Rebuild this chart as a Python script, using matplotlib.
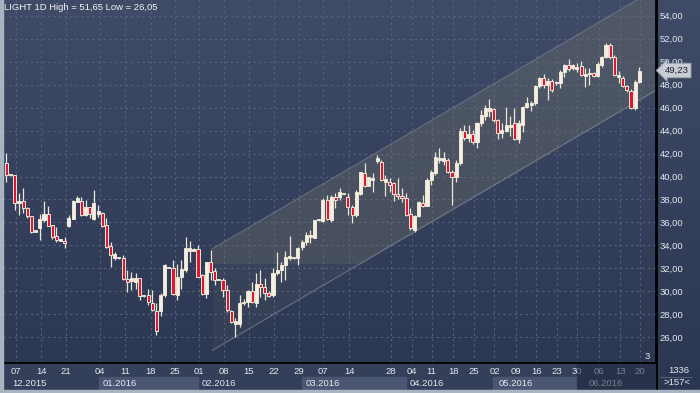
import numpy as np
import matplotlib
matplotlib.use("Agg")
import matplotlib.pyplot as plt
from matplotlib.patches import Rectangle
from matplotlib.lines import Line2D
from matplotlib.colors import LinearSegmentedColormap

plt.rcParams['font.family'] = ['Liberation Sans', 'DejaVu Sans']

# daily OHLC (one candle per trading day)
opens = [41.20, 40.12, 40.13, 37.67, 37.87, 37.23, 36.56, 35.20, 35.49, 36.21,
         36.73, 35.78, 34.82, 34.38, 34.38, 35.69, 36.30, 37.80, 37.87, 36.65,
         37.33, 36.27, 36.73, 36.85, 35.78, 33.95, 32.87, 32.88, 32.87, 31.05,
         30.93, 30.79, 31.13, 29.58, 29.68, 29.01, 28.32, 28.32, 29.68, 32.05,
         32.00, 29.68, 31.22, 31.86, 33.54, 33.55, 33.66, 31.42, 29.77, 32.53,
         31.77, 30.97, 30.99, 30.12, 28.29, 27.16, 27.16, 28.96, 29.10, 30.06,
         29.02, 30.64, 30.35, 29.88, 29.68, 31.63, 31.86, 32.29, 32.93, 32.88,
         32.87, 33.89, 34.33, 34.76, 34.68, 36.18, 36.12, 37.95, 36.21, 38.24,
         38.24, 38.50, 38.24, 37.37, 36.65, 38.45, 40.27, 39.20, 39.70, 41.35,
         41.29, 39.55, 39.49, 39.40, 38.47, 38.30, 38.16, 36.71, 35.34, 36.59,
         37.66, 37.46, 39.70, 40.27, 41.44, 41.35, 41.44, 40.36, 39.98, 41.15,
         43.96, 43.38, 43.67, 43.03, 44.63, 45.27, 45.73, 45.85, 44.92, 43.82,
         43.99, 44.28, 44.63, 43.24, 44.48, 46.08, 46.22, 46.43, 47.88, 48.55,
         47.97, 48.34, 48.11, 48.11, 49.13, 49.71, 49.42, 49.33, 49.62, 48.75,
         48.92, 49.04, 48.75, 49.71, 50.43, 51.45, 50.43, 48.63, 48.55, 47.88,
         47.47, 45.93, 48.26]
highs = [42.02, 40.25, 40.13, 38.59, 38.97, 37.37, 36.56, 35.35, 36.73, 37.87,
         37.43, 35.78, 35.58, 34.60, 34.76, 36.65, 37.95, 38.30, 38.19, 37.96,
         37.35, 38.80, 37.52, 36.94, 36.36, 34.33, 33.45, 33.00, 33.16, 31.86,
         31.71, 31.57, 31.20, 29.70, 30.17, 30.12, 28.96, 29.83, 32.38, 32.15,
         32.73, 32.38, 32.73, 34.76, 34.38, 33.80, 34.04, 31.51, 32.58, 33.60,
         32.00, 31.05, 31.13, 30.55, 28.38, 27.65, 29.68, 29.30, 30.12, 30.84,
         31.63, 31.86, 31.13, 30.00, 32.00, 33.45, 32.58, 33.51, 34.85, 33.00,
         33.89, 34.47, 35.20, 35.34, 36.21, 36.28, 38.10, 38.39, 38.39, 38.53,
         38.97, 38.60, 38.53, 37.52, 38.82, 40.42, 41.15, 39.95, 40.27, 41.87,
         41.44, 40.13, 39.84, 39.49, 39.84, 38.97, 38.53, 37.23, 36.65, 37.87,
         38.39, 39.84, 40.56, 42.16, 42.45, 42.10, 41.58, 40.56, 41.44, 44.25,
         44.48, 44.48, 44.05, 44.77, 45.79, 46.22, 46.72, 45.93, 44.98, 44.63,
         46.08, 45.27, 45.93, 44.92, 46.14, 46.95, 46.57, 47.97, 48.69, 48.92,
         48.55, 48.46, 48.30, 49.27, 49.79, 50.20, 49.80, 49.91, 50.08, 49.42,
         49.42, 49.10, 49.98, 50.49, 51.65, 51.60, 50.58, 49.21, 48.75, 47.97,
         47.59, 48.40, 49.50]
lows = [39.55, 40.05, 37.10, 36.65, 36.80, 36.36, 35.10, 35.18, 34.47, 36.06,
        35.71, 34.56, 34.33, 34.35, 33.75, 35.63, 36.30, 37.75, 36.60, 36.60,
        36.36, 36.20, 36.50, 35.63, 33.74, 32.09, 32.73, 32.80, 30.99, 29.97,
        30.12, 30.17, 29.25, 29.55, 28.81, 28.32, 26.20, 27.85, 29.54, 32.00,
        29.70, 29.25, 30.17, 31.71, 32.58, 33.50, 31.22, 29.68, 29.39, 30.99,
        30.55, 30.95, 29.54, 28.23, 27.22, 26.05, 26.92, 28.80, 28.67, 29.00,
        28.67, 29.54, 29.25, 29.50, 29.48, 31.42, 30.84, 30.99, 32.73, 32.80,
        32.29, 33.60, 34.04, 34.18, 34.62, 36.15, 36.07, 36.21, 36.07, 37.23,
        37.95, 38.45, 36.65, 35.92, 36.50, 38.39, 39.11, 39.15, 38.68, 41.15,
        39.61, 38.33, 38.68, 37.87, 38.04, 37.81, 36.59, 35.34, 35.20, 36.50,
        37.37, 37.40, 39.26, 40.13, 41.15, 41.00, 40.27, 37.52, 39.55, 41.00,
        43.18, 43.03, 42.80, 42.45, 44.40, 44.92, 45.21, 44.77, 43.24, 43.32,
        43.90, 43.53, 43.18, 42.94, 43.90, 45.93, 45.73, 46.22, 47.68, 47.68,
        46.66, 47.39, 48.00, 47.68, 48.69, 49.21, 49.30, 49.13, 48.75, 47.76,
        47.97, 48.70, 48.69, 49.56, 50.30, 50.20, 48.75, 48.11, 47.76, 47.39,
        45.85, 45.79, 48.11]
closes = [40.10, 40.17, 37.67, 37.87, 37.23, 36.56, 35.19, 35.33, 36.27, 36.73,
          35.71, 34.76, 34.47, 34.56, 34.18, 36.36, 37.90, 38.10, 36.65, 37.33,
          36.73, 37.72, 37.02, 35.69, 33.89, 33.16, 33.22, 32.92, 31.05, 30.79,
          31.13, 31.13, 29.60, 29.65, 29.10, 28.38, 26.57, 29.68, 32.29, 32.12,
          29.77, 31.22, 31.95, 33.74, 33.74, 33.72, 31.28, 29.77, 32.53, 31.71,
          30.99, 31.02, 30.12, 28.38, 27.36, 27.45, 28.96, 29.10, 30.06, 29.10,
          30.64, 30.35, 29.83, 29.62, 31.57, 31.86, 32.29, 32.96, 33.08, 32.92,
          33.74, 34.33, 34.91, 34.91, 36.21, 36.23, 37.95, 36.30, 38.24, 37.95,
          38.68, 38.55, 37.37, 36.65, 38.68, 40.36, 39.20, 39.93, 39.84, 41.64,
          39.70, 39.75, 39.26, 38.45, 38.30, 38.10, 36.65, 35.49, 36.59, 37.75,
          37.46, 39.70, 40.36, 41.73, 41.64, 41.58, 40.36, 39.98, 41.15, 43.96,
          43.38, 43.67, 43.03, 44.63, 45.35, 45.93, 45.93, 44.92, 43.82, 44.05,
          44.48, 44.48, 43.24, 44.63, 46.08, 46.43, 46.43, 47.88, 48.55, 47.97,
          48.34, 47.53, 48.26, 49.13, 49.71, 49.33, 49.71, 49.56, 48.84, 48.92,
          49.04, 48.75, 49.79, 50.43, 51.45, 50.43, 48.84, 48.84, 47.88, 47.53,
          45.93, 48.26, 49.23]

price_ticks = list(range(26, 55, 2))
day_tick_pos = [2.3, 8.3, 14.2, 22.5, 28.5, 34.6, 40.5, 46.2, 52.2, 58.2, 64.3,
                70.3, 76.1, 82.3, 92.4, 97.3, 102.1, 107.3, 112.3, 117.2, 122.3,
                127.2, 132.2, 137.0, 142.3, 147.4, 152.2]
day_tick_labels = ["07", "14", "21", "04", "11", "18", "25", "01", "08", "15", "22",
                   "29", "07", "14", "28", "04", "11", "18", "25", "02", "09",
                   "16", "23", "30", "06", "13", "20"]
month_starts = [-0.84, 22.2, 46.0, 71.0, 96.0, 116.9, 137.0]
month_label_pos = [1.3, 23.2, 46.9, 71.9, 96.9, 118.1, 139.7]
month_labels = ["12.2015", "01.2016", "02.2016", "03.2016", "04.2016", "05.2016", "06.2016"]

# trend channel drawn on the chart
channel_x = [49.4, 156.0]
channel_upper = [33.69, 56.34]
channel_lower = [24.86, 47.51]
channel_split = 32.5

last_price = 49.23
title = "LIGHT 1D High = 51,65 Low = 26,05"

# colours
up_color = "#f4efe2"
down_color = "#dc1735"
wick_color = "#ece6d6"
grid_color = "#56627c"
text_color = "#e4e8ee"

W, H = 700, 393
x_lim = (-0.84, 156.0)
y_lim = (23.76, 55.37)

fig = plt.figure(figsize=(W / 100, H / 100), dpi=100)

# background gradient for the whole window
bg = fig.add_axes([0, 0, 1, 1], zorder=0)
cmap = LinearSegmentedColormap.from_list("bg", ["#2b3751", "#3f4b67"])
bg.imshow(np.linspace(0, 1, 256).reshape(-1, 1), aspect="auto", cmap=cmap,
          extent=[0, 1, 0, 1], origin="lower")
bg.axis("off")

# main price panel
ax = fig.add_axes([3 / W, 30 / H, 653 / W, 363 / H], zorder=2)
ax.set_facecolor("none")
ax.set_xlim(*x_lim)
ax.set_ylim(*y_lim)

# channel
fill_color = "#7a7a6e"
ax.fill_between(channel_x, channel_lower, channel_upper, color=fill_color,
                alpha=0.10, lw=0, zorder=1)
band = ax.fill_between(channel_x, channel_lower, channel_upper, color=fill_color,
                       alpha=0.22, lw=0, zorder=1)
clip = Rectangle((channel_x[0], channel_split), channel_x[1] - channel_x[0], 40,
                 transform=ax.transData)
band.set_clip_path(clip)
ax.plot(channel_x, channel_upper, color="#9aa0a8", lw=0.9, alpha=0.45, zorder=2)
ax.plot(channel_x, channel_lower, color="#9aa0a8", lw=0.9, alpha=0.45, zorder=2)

# candles
o = np.array(opens)
c = np.array(closes)
h = np.array(highs)
l = np.array(lows)
idx = np.arange(len(c))
up = c >= o
ax.vlines(idx, l, h, color=wick_color, lw=0.9, zorder=3)
body_bot = np.minimum(o, c)
body_h = np.maximum(np.abs(c - o), 0.09)
ax.bar(idx, body_h, bottom=body_bot, width=0.74,
       color=[up_color if u else down_color for u in up],
       edgecolor=wick_color, linewidth=0.7, zorder=4)

# grid / axes
ax.set_xticks(day_tick_pos)
ax.set_yticks(price_ticks)
ax.set_yticklabels([f"{v:.2f}".replace(".", ",") for v in price_ticks])
ax.yaxis.tick_right()
ax.tick_params(axis="y", length=0, pad=2.5, labelsize=6.8, labelcolor=text_color)
ax.tick_params(axis="x", length=0, labelbottom=False)
ax.grid(True, color=grid_color, linestyle=(0, (2, 3)), linewidth=0.8)
ax.set_axisbelow(True)
for s in ["top", "left"]:
    ax.spines[s].set_visible(False)
for s in ["bottom", "right"]:
    ax.spines[s].set_color("black")
    ax.spines[s].set_linewidth(1.3)

ax.text(0.991, 0.006, "3", transform=ax.transAxes, ha="right", va="bottom",
        fontsize=6.8, color=text_color, zorder=6)

# last price marker
ax.annotate(f"{last_price:.2f}".replace(".", ","), xy=(1, last_price),
            xycoords=("axes fraction", "data"), xytext=(6, 0),
            textcoords="offset points", ha="left", va="center", fontsize=6.8,
            color="#1b2230", annotation_clip=False, zorder=10,
            bbox=dict(boxstyle="larrow,pad=0.3", fc="#c8ccd4", ec="#8f96a2", lw=0.6))

# date bar
ax_d = fig.add_axes([3 / W, 3 / H, 653 / W, 27 / H], zorder=1)
ax_d.set_xlim(*x_lim)
ax_d.set_ylim(0, 27)
ax_d.axis("off")
ax_d.add_patch(Rectangle((x_lim[0], 0), x_lim[1] - x_lim[0], 27, color="#34405a", zorder=0))
ends = month_starts[1:] + [x_lim[1]]
for i, (m0, m1) in enumerate(zip(month_starts, ends)):
    if i % 2 == 1:
        ax_d.add_patch(Rectangle((m0, 0), m1 - m0, 13, color="#4b5772", zorder=1))
for p, lab in zip(month_label_pos, month_labels):
    ax_d.text(p, 7, lab, ha="left", va="center", fontsize=6.8, color=text_color, zorder=2)
for p, lab in zip(day_tick_pos, day_tick_labels):
    ax_d.text(p, 18, lab, ha="center", va="center", fontsize=6.8, color=text_color, zorder=2)
ax_d.add_patch(Rectangle((month_starts[-1], 0), x_lim[1] - month_starts[-1] - 0.3, 27,
                         color="#1f2940", alpha=0.55, zorder=5))

# frame pieces
fig.add_artist(Line2D([656.7 / W] * 2, [3 / H, 1], color="black", lw=1.3))
fig.add_artist(Line2D([660 / W, 692 / W], [1 - 376.5 / H] * 2, color="#5a6680", lw=0.6))
fig.text(678.3 / W, 1 - 370.7 / H, "1336", ha="center", va="center", fontsize=6.8, color=text_color)
fig.text(676.7 / W, 1 - 382.7 / H, ">157<", ha="center", va="center", fontsize=6.8, color=text_color)
fig.patches.append(Rectangle((0, 0), 3 / W, 1, transform=fig.transFigure,
                             color="#aab3c2", zorder=20))
fig.patches.append(Rectangle((0, 0), 1, 3 / H, transform=fig.transFigure,
                             color="#aab3c2", zorder=20))
fig.text(4 / W, 1 - 7.5 / H, title, ha="left", va="center", fontsize=6.8, color="#f2f2f2")

fig.savefig("out.png", dpi=100)
